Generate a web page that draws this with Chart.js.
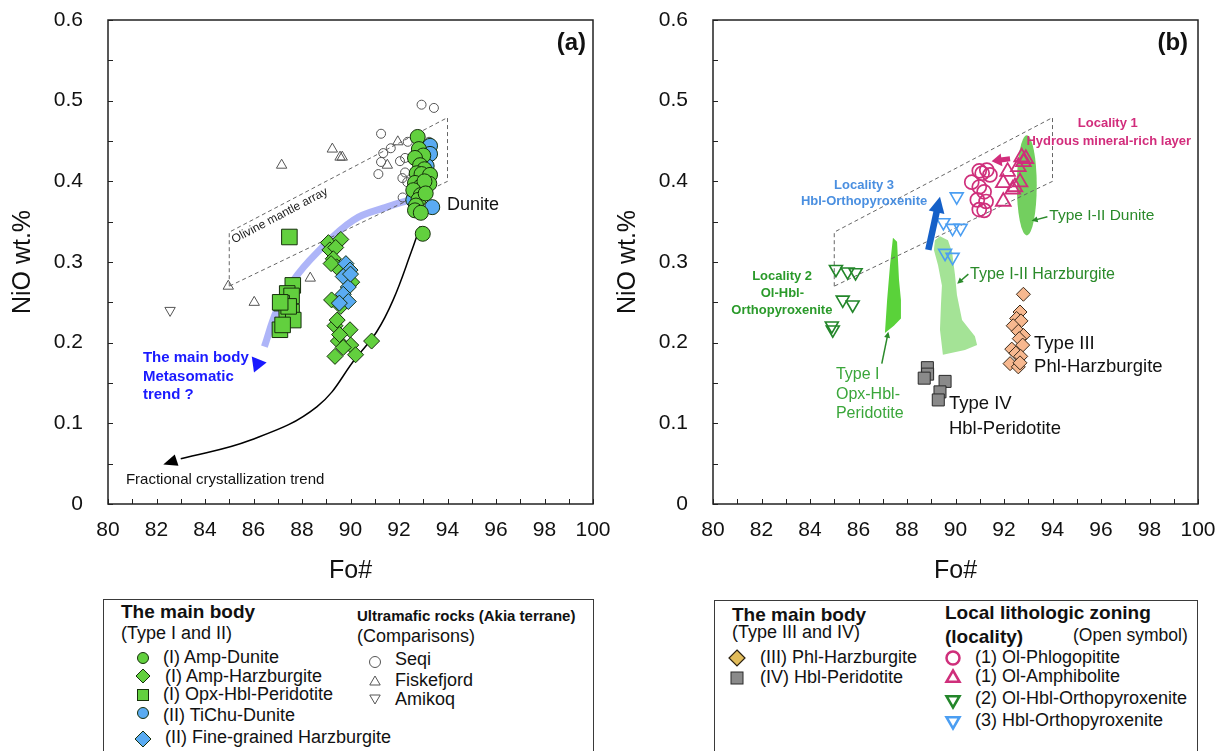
<!DOCTYPE html>
<html>
<head>
<meta charset="utf-8">
<script src="https://cdn.jsdelivr.net/npm/chart.js@4.4.1/dist/chart.umd.min.js"></script>
<style>
  body { margin:0; width:1222px; height:751px; overflow:hidden; position:relative; background:#fff;
         font-family:"Liberation Sans", Arial, sans-serif; color:#111; }
  .plot { position:absolute; top:0; width:611px; height:590px; }
  .box { position:absolute; border:1.5px solid #3a3a3a; height:170px; }
  .lg { position:absolute; white-space:nowrap; line-height:1; }
  .mk { position:absolute; width:20px; height:20px; }
</style>
</head>
<body>
<div class="plot" style="left:0"><canvas id="chartA"></canvas></div>
<div class="plot" style="left:611px"><canvas id="chartB"></canvas></div>
<div class="box" style="left:103px;top:599px;width:489px"></div>
<div class="box" style="left:714px;top:600px;width:482px"></div>
<div id="legends"></div>
<script>
const FONT = '"Liberation Sans", Arial, sans-serif';

// ---- panel (a) data: [Fo#, NiO wt.%] ----
const ampDunite = [[92.77,0.455],[92.82,0.44],[93.0,0.432],[92.66,0.429],[92.87,0.42],[93.05,0.415],[92.73,0.41],
  [92.93,0.409],[93.28,0.408],[92.66,0.398],[92.87,0.393],[93.25,0.397],[93.05,0.40],[92.59,0.389],[92.9,0.383],
  [92.8,0.377],[93.1,0.385],[92.7,0.37],[92.66,0.364],[92.9,0.361],[92.98,0.335]];
const tichuDunite = [[93.28,0.444],[93.28,0.434],[93.14,0.419],[93.37,0.368],[92.59,0.377]];
const ampHarzburgite = [[89.09,0.324],[89.6,0.328],[89.15,0.315],[89.39,0.318],[89.29,0.304],[89.43,0.294],[89.2,0.298],
  [90.05,0.275],[89.22,0.253],[89.6,0.245],[89.36,0.221],[89.98,0.216],[89.5,0.202],[90.01,0.197],[89.7,0.194],
  [89.36,0.183],[90.21,0.185],[90.87,0.202],[89.45,0.228],[89.55,0.21]];
const fineHarzburgite = [[89.81,0.298],[89.98,0.29],[89.7,0.282],[89.91,0.269],[89.7,0.26],[89.91,0.251],[89.54,0.249],[90.0,0.285]];
const opxHblPeridotite = [[87.48,0.331],[87.62,0.271],[87.39,0.261],[87.57,0.258],[87.16,0.249],[87.57,0.238],[87.37,0.234],
  [87.64,0.228],[87.09,0.216],[87.2,0.222],[87.45,0.245],[87.1,0.25]];
const seqi = [[92.93,0.495],[93.44,0.491],[91.26,0.459],[91.35,0.435],[91.66,0.441],[92.36,0.449],[91.26,0.424],
  [92.04,0.425],[92.25,0.429],[91.15,0.409],[92.25,0.411],[92.14,0.404],[92.34,0.399],[92.15,0.38],[93.24,0.449]];
const fiskefjord = [[89.25,0.44],[89.57,0.43],[89.66,0.43],[87.16,0.42],[91.95,0.449],[91.52,0.42],[84.96,0.27],[86.03,0.25],[88.34,0.28]];
const amikoq = [[82.56,0.24]];
const mantleArray = [[85,0.27],[85,0.337],[94,0.479],[94,0.40],[85,0.27]];
const fracTrend = [[92.87,0.344],[92.5,0.312],[91.76,0.253],[91.08,0.2135],[90.26,0.1825],[88.61,0.1205],[85.86,0.079],[83.0,0.056]];
const metaTrend = [[92.45,0.377],[91.49,0.368],[90.12,0.352],[88.6,0.311],[87.64,0.277],[86.96,0.24],[86.45,0.195]];

// ---- panel (b) data ----
const phlHarzburgite = [[92.8,0.26],[92.66,0.238],[92.52,0.23],[92.7,0.227],[92.38,0.221],[92.59,0.214],[92.8,0.209],
  [92.63,0.205],[92.77,0.197],[92.32,0.192],[92.49,0.187],[92.69,0.183],[92.25,0.174],[92.59,0.17],[92.66,0.175]];
const hblPeridotite = [[88.84,0.169],[88.85,0.161],[88.71,0.156],[89.57,0.152],[89.36,0.139],[89.29,0.129]];
const olPhlogopitite = [[90.98,0.413],[91.29,0.414],[91.42,0.408],[90.67,0.399],[90.98,0.393],[91.18,0.387],[90.9,0.377],
  [91.26,0.375],[90.98,0.365],[91.18,0.364],[91.1,0.41]];
const olAmphibolite = [[92.73,0.43],[92.8,0.424],[92.9,0.428],[92.15,0.412],[92.59,0.418],[91.97,0.398],[92.66,0.399],
  [92.45,0.393],[92.36,0.39],[91.97,0.375]];
const olHblOpx = [[85.07,0.291],[85.55,0.288],[85.88,0.287],[85.35,0.253],[85.76,0.247],[84.9,0.221],[84.94,0.216]];
const hblOpx = [[90.05,0.381],[89.5,0.349],[89.88,0.342],[90.21,0.342],[89.57,0.311],[89.88,0.306]];
const duniteField = [92.94, 0.395, 0.41, 0.062]; // centre Fo#, NiO, half width, half height
const opxField = [[87.42,0.33],[87.59,0.325],[87.67,0.278],[87.75,0.253],[87.75,0.23],[87.46,0.221],[87.09,0.212],[87.18,0.253],[87.3,0.296]];
const harzField = [[89.36,0.332],[89.69,0.327],[89.86,0.312],[89.98,0.284],[90.06,0.259],[90.27,0.228],[90.8,0.208],
  [90.89,0.197],[90.39,0.191],[89.48,0.185],[89.36,0.216],[89.4,0.247],[89.44,0.271],[89.28,0.296],[89.11,0.315],[89.15,0.327]];

const pts = a => a.map(([x, y]) => ({ x, y }));

function marks(label, data, style, radius, fill, stroke, width, rot) {
  return { label, data: pts(data), pointStyle: style, pointRadius: radius, pointRotation: rot || 0,
    backgroundColor: fill, borderColor: stroke, borderWidth: width };
}
function curve(label, data, color, width, dash, tension) {
  return { label, data: pts(data), showLine: true, pointRadius: 0, borderColor: color, borderWidth: width,
    borderDash: dash || [], tension: tension || 0, fill: false };
}

function makeScales(yWidth, yTitlePad) {
  return {
    x: {
      type: 'linear', min: 80, max: 100,
      afterFit: s => { s.height = 86; s.paddingLeft = 0; s.paddingRight = 0; },
      grid: { display: false, drawTicks: false }, border: { display: false },
      ticks: { stepSize: 1, autoSkip: false, maxRotation: 0, padding: 14, color: '#111',
        font: { family: FONT, size: 21 }, callback: v => (v % 2 === 0 ? v : '') },
      title: { display: true, text: 'Fo#', color: '#111', font: { family: FONT, size: 25 }, padding: { top: 0, bottom: 4 } }
    },
    y: {
      type: 'linear', min: 0, max: 0.6,
      afterFit: s => { s.width = yWidth; s.paddingTop = 0; s.paddingBottom = 0; },
      grid: { display: false, drawTicks: false }, border: { display: false },
      ticks: { stepSize: 0.05, autoSkip: false, padding: 25, color: '#111', font: { family: FONT, size: 21 },
        callback: v => { const k = Math.round(v * 100); return k % 10 === 0 ? (k === 0 ? '0' : (k / 100).toFixed(1)) : ''; } },
      title: { display: true, text: 'NiO wt.%', color: '#111', font: { family: FONT, size: 25 }, padding: { top: yTitlePad, bottom: 0 } }
    }
  };
}

// frame with inward ticks
const frame = {
  id: 'frame',
  afterDraw(chart) {
    const { ctx, chartArea: a, scales: { x, y } } = chart;
    ctx.save();
    ctx.strokeStyle = '#222';
    ctx.lineWidth = 1;
    ctx.beginPath();
    x.ticks.forEach(t => { const p = Math.round(x.getPixelForValue(t.value)) + 0.5; ctx.moveTo(p, a.bottom); ctx.lineTo(p, a.bottom - 5); });
    y.ticks.forEach(t => { const p = Math.round(y.getPixelForValue(t.value)) + 0.5; ctx.moveTo(a.left, p); ctx.lineTo(a.left + 5, p); });
    ctx.stroke();
    ctx.lineWidth = 1.5;
    ctx.strokeRect(a.left, a.top, a.right - a.left, a.bottom - a.top);
    ctx.restore();
  }
};

function drawArrow(ctx, x1, y1, x2, y2, w, hl, hw, color) {
  const dx = x2 - x1, dy = y2 - y1, L = Math.hypot(dx, dy), ux = dx / L, uy = dy / L;
  const bx = x2 - ux * hl, by = y2 - uy * hl;
  ctx.fillStyle = color;
  ctx.strokeStyle = color;
  if (w > 0) {
    ctx.lineWidth = w;
    ctx.beginPath(); ctx.moveTo(x1, y1); ctx.lineTo(bx + ux, by + uy); ctx.stroke();
  }
  ctx.beginPath();
  ctx.moveTo(x2, y2);
  ctx.lineTo(bx - uy * hw / 2, by + ux * hw / 2);
  ctx.lineTo(bx + uy * hw / 2, by - ux * hw / 2);
  ctx.closePath();
  ctx.fill();
}

function notes(cfg) {
  return {
    id: 'notes',
    beforeDatasetsDraw(chart) {
      const { ctx, scales: { x, y } } = chart;
      ctx.save();
      (cfg.fields || []).forEach(f => {
        ctx.fillStyle = f.color;
        ctx.beginPath();
        if (f.ellipse) {
          const [cx, cy, rx, ry] = f.ellipse;
          const px = x.getPixelForValue(cx), py = y.getPixelForValue(cy);
          ctx.ellipse(px, py, Math.abs(x.getPixelForValue(cx + rx) - px), Math.abs(y.getPixelForValue(cy + ry) - py), 0, 0, Math.PI * 2);
        } else {
          f.pts.forEach(([vx, vy], i) => {
            const X = x.getPixelForValue(vx), Y = y.getPixelForValue(vy);
            i ? ctx.lineTo(X, Y) : ctx.moveTo(X, Y);
          });
          ctx.closePath();
        }
        ctx.fill();
      });
      ctx.restore();
    },
    afterDatasetsDraw(chart) {
      const { ctx, scales: { x, y } } = chart;
      ctx.save();
      (cfg.arrows || []).forEach(a => {
        drawArrow(ctx, x.getPixelForValue(a.from[0]), y.getPixelForValue(a.from[1]),
          x.getPixelForValue(a.to[0]), y.getPixelForValue(a.to[1]), a.w, a.hl, a.hw, a.color);
      });
      (cfg.texts || []).forEach(t => {
        ctx.save();
        ctx.font = (t.bold ? 'bold ' : '') + t.size + 'px ' + FONT;
        ctx.fillStyle = t.color || '#111';
        ctx.textAlign = t.align || 'left';
        ctx.textBaseline = t.base || 'middle';
        ctx.translate(x.getPixelForValue(t.x), y.getPixelForValue(t.y));
        if (t.rot) ctx.rotate(t.rot(x, y));
        ctx.fillText(t.t, 0, 0);
        ctx.restore();
      });
      ctx.restore();
    }
  };
}

const arrayAngle = (x, y) => Math.atan2(y.getPixelForValue(0.479) - y.getPixelForValue(0.337), x.getPixelForValue(94) - x.getPixelForValue(85));

const notesA = notes({
  arrows: [
    { from: [83.0, 0.056], to: [82.28, 0.049], w: 0, hl: 14, hw: 12, color: '#000' },
    { from: [86.3, 0.184], to: [86.02, 0.163], w: 0, hl: 14, hw: 16, color: '#1a1aff' }
  ],
  texts: [
    { t: '(a)', x: 99.71, y: 0.571, size: 24, bold: true, align: 'right' },
    { t: 'Dunite', x: 93.98, y: 0.371, size: 18 },
    { t: 'The main body', x: 81.44, y: 0.181, size: 15, bold: true, color: '#1a1aff' },
    { t: 'Metasomatic', x: 81.44, y: 0.158, size: 15, bold: true, color: '#1a1aff' },
    { t: 'trend ?', x: 81.44, y: 0.135, size: 15, bold: true, color: '#1a1aff' },
    { t: 'Fractional crystallization trend', x: 80.74, y: 0.03, size: 15 },
    { t: 'Olivine mantle array', x: 85.2, y: 0.323, size: 12, base: 'alphabetic', color: '#222', rot: arrayAngle }
  ]
});

const notesB = notes({
  fields: [
    { ellipse: duniteField, color: '#73cf5f' },
    { pts: opxField, color: '#5ad23a' },
    { pts: harzField, color: '#a4e396' }
  ],
  arrows: [
    { from: [88.88, 0.315], to: [89.36, 0.381], w: 6.5, hl: 16, hw: 16, color: '#1560c8' },
    { from: [92.25, 0.428], to: [91.49, 0.425], w: 5, hl: 10, hw: 13, color: '#d22d7c' },
    { from: [93.79, 0.356], to: [93.14, 0.351], w: 1.5, hl: 6, hw: 6, color: '#2a8a2a' },
    { from: [90.53, 0.285], to: [90.07, 0.273], w: 1.5, hl: 6, hw: 6, color: '#2a8a2a' },
    { from: [86.96, 0.174], to: [87.23, 0.2135], w: 1.5, hl: 6, hw: 6, color: '#2a8a2a' }
  ],
  texts: [
    { t: '(b)', x: 99.59, y: 0.571, size: 24, bold: true, align: 'right' },
    { t: 'Locality 1', x: 96.28, y: 0.472, size: 13, bold: true, align: 'center', color: '#d22d7c' },
    { t: 'Hydrous mineral-rich layer', x: 96.32, y: 0.450, size: 13, bold: true, align: 'center', color: '#d22d7c' },
    { t: 'Locality 3', x: 86.23, y: 0.395, size: 13, bold: true, align: 'center', color: '#4a8fe0' },
    { t: 'Hbl-Orthopyroxenite', x: 86.23, y: 0.375, size: 13, bold: true, align: 'center', color: '#4a8fe0' },
    { t: 'Locality 2', x: 82.85, y: 0.282, size: 13, bold: true, align: 'center', color: '#2a9a2a' },
    { t: 'Ol-Hbl-', x: 82.86, y: 0.261, size: 13, bold: true, align: 'center', color: '#2a9a2a' },
    { t: 'Orthopyroxenite', x: 82.84, y: 0.240, size: 13, bold: true, align: 'center', color: '#2a9a2a' },
    { t: 'Type I-II Dunite', x: 93.87, y: 0.357, size: 15.5, color: '#2a8a2a' },
    { t: 'Type I-II Harzburgite', x: 90.6, y: 0.285, size: 16, color: '#2a8a2a' },
    { t: 'Type I', x: 85.07, y: 0.161, size: 16, color: '#3aa63a' },
    { t: 'Opx-Hbl-', x: 85.07, y: 0.136, size: 16, color: '#3aa63a' },
    { t: 'Peridotite', x: 85.07, y: 0.112, size: 16, color: '#3aa63a' },
    { t: 'Type III', x: 93.24, y: 0.198, size: 18.5 },
    { t: 'Phl-Harzburgite', x: 93.24, y: 0.170, size: 18.5 },
    { t: 'Type IV', x: 89.73, y: 0.124, size: 18.5 },
    { t: 'Hbl-Peridotite', x: 89.73, y: 0.0925, size: 18.5 }
  ]
});

const GREEN = '#62d03e', BLUE = '#5aabf2', EDGE = '#16300c';

const common = {
  responsive: true, maintainAspectRatio: false, animation: false, devicePixelRatio: 1,
  plugins: { legend: { display: false }, tooltip: { enabled: false } }
};

new Chart(document.getElementById('chartA'), {
  type: 'scatter',
  data: {
    datasets: [
      marks('(I) Amp-Dunite', ampDunite, 'circle', 7.5, GREEN, EDGE, 1),
      marks('(II) TiChu-Dunite', tichuDunite, 'circle', 7.5, BLUE, EDGE, 1),
      marks('(II) Fine-grained Harzburgite', fineHarzburgite, 'rectRot', 8, BLUE, EDGE, 1),
      marks('(I) Amp-Harzburgite', ampHarzburgite, 'rectRot', 8, GREEN, EDGE, 1),
      marks('(I) Opx-Hbl-Peridotite', opxHblPeridotite, 'rect', 11, GREEN, EDGE, 1),
      marks('Seqi', seqi, 'circle', 4.5, 'rgba(0,0,0,0)', '#555', 1),
      marks('Fiskefjord', fiskefjord, 'triangle', 6, 'rgba(0,0,0,0)', '#555', 1),
      marks('Amikoq', amikoq, 'triangle', 6, 'rgba(0,0,0,0)', '#555', 1, 180),
      curve('Olivine mantle array', mantleArray, '#666', 1, [4, 3]),
      curve('Metasomatic trend', metaTrend, 'rgba(140,150,245,0.7)', 7, [], 0.4),
      curve('Fractional crystallization trend', fracTrend, '#000', 1.5, [], 0.4)
    ]
  },
  options: Object.assign({}, common, {
    layout: { padding: { left: 0, right: 18, top: 20, bottom: 0 } },
    scales: makeScales(108, 8)
  }),
  plugins: [notesA, frame]
});

new Chart(document.getElementById('chartB'), {
  type: 'scatter',
  data: {
    datasets: [
      marks('(III) Phl-Harzburgite', phlHarzburgite, 'rectRot', 7, '#f7b88f', '#3a2a1a', 1),
      marks('(IV) Hbl-Peridotite', hblPeridotite, 'rect', 8.5, '#8a8a8a', '#2a2a2a', 1),
      marks('(1) Ol-Phlogopitite', olPhlogopitite, 'circle', 7, 'rgba(0,0,0,0)', '#cf2f7b', 1.7),
      marks('(1) Ol-Amphibolite', olAmphibolite, 'triangle', 8.5, 'rgba(0,0,0,0)', '#cf2f7b', 1.8),
      marks('(3) Hbl-Orthopyroxenite', hblOpx, 'triangle', 7.5, 'rgba(0,0,0,0)', '#4b9ef2', 1.6, 180),
      marks('(2) Ol-Hbl-Orthopyroxenite', olHblOpx, 'triangle', 7.5, 'rgba(0,0,0,0)', '#23862a', 1.6, 180),
      curve('Olivine mantle array', mantleArray, '#666', 1, [4, 3])
    ]
  },
  options: Object.assign({}, common, {
    layout: { padding: { left: 0, right: 24, top: 20, bottom: 0 } },
    scales: makeScales(102, 2)
  }),
  plugins: [notesB, frame]
});

// ---- legends (HTML) ----
const host = document.getElementById('legends');
function txt(s, x, cy, size, bold) {
  const d = document.createElement('div');
  d.className = 'lg';
  d.textContent = s;
  d.style.left = x + 'px';
  d.style.top = (cy - size * 0.55) + 'px';
  d.style.fontSize = size + 'px';
  if (bold) d.style.fontWeight = 'bold';
  host.appendChild(d);
}
function mk(shape, x, y, r, fill, stroke, sw) {
  let g;
  if (shape === 'circle') g = `<circle cx="10" cy="10" r="${r}"/>`;
  else if (shape === 'diamond') g = `<polygon points="10,${10 - r} ${10 + r},10 10,${10 + r} ${10 - r},10"/>`;
  else if (shape === 'square') g = `<rect x="${10 - r}" y="${10 - r}" width="${2 * r}" height="${2 * r}"/>`;
  else {
    const h = r * 0.87, s = shape === 'tri' ? 1 : -1;
    g = `<polygon points="10,${10 - s * r} ${10 + h},${10 + s * r / 2} ${10 - h},${10 + s * r / 2}"/>`;
  }
  const d = document.createElement('div');
  d.className = 'mk';
  d.style.left = (x - 10) + 'px';
  d.style.top = (y - 10) + 'px';
  d.innerHTML = `<svg width="20" height="20"><g fill="${fill}" stroke="${stroke}" stroke-width="${sw}">${g}</g></svg>`;
  host.appendChild(d);
}

txt('The main body', 121, 612, 19, true);
txt('(Type I and II)', 121, 634, 18);
mk('circle', 143, 658, 5.5, GREEN, EDGE, 1);  txt('(I) Amp-Dunite', 163, 658, 18);
mk('diamond', 143, 676, 7, GREEN, EDGE, 1);   txt('(I) Amp-Harzburgite', 165, 677, 18);
mk('square', 143, 695, 5.5, GREEN, EDGE, 1);  txt('(I) Opx-Hbl-Peridotite', 163, 695, 18);
mk('circle', 143, 713, 5.5, BLUE, EDGE, 1);   txt('(II) TiChu-Dunite', 163, 716, 18);
mk('diamond', 143, 739, 8, BLUE, EDGE, 1);    txt('(II) Fine-grained Harzburgite', 165, 738, 18);
txt('Ultramafic rocks (Akia terrane)', 357, 616, 15, true);
txt('(Comparisons)', 357, 637, 18);
mk('circle', 375, 662, 5.5, 'none', '#555', 1); txt('Seqi', 395, 660, 18);
mk('tri', 375, 682, 6, 'none', '#555', 1);      txt('Fiskefjord', 395, 681, 18);
mk('dtri', 375, 698, 6, 'none', '#555', 1);     txt('Amikoq', 395, 700, 18);

txt('The main body', 732, 615, 19, true);
txt('(Type III and IV)', 732, 633, 18);
mk('diamond', 737, 658, 8, '#e2bc5a', '#2a2010', 1.2); txt('(III) Phl-Harzburgite', 760, 658, 18);
mk('square', 737, 678, 6, '#8a8a8a', '#2a2a2a', 1);    txt('(IV) Hbl-Peridotite', 760, 678, 18);
txt('Local lithologic zoning', 945, 613, 19, true);
txt('(locality)', 945, 637, 19, true);
txt('(Open symbol)', 1073, 637, 17.5);
mk('circle', 953, 658, 6.5, 'none', '#cf2f7b', 2.5);  txt('(1) Ol-Phlogopitite', 975, 658, 18);
mk('tri', 953, 678, 7.5, 'none', '#cf2f7b', 2.5);     txt('(1) Ol-Amphibolite', 975, 677, 18);
mk('dtri', 953, 700, 7.5, 'none', '#23862a', 2.5);    txt('(2) Ol-Hbl-Orthopyroxenite', 975, 699, 18);
mk('dtri', 953, 721, 7.5, 'none', '#4b9ef2', 2.5);    txt('(3) Hbl-Orthopyroxenite', 975, 721, 18);
</script>
</body>
</html>
